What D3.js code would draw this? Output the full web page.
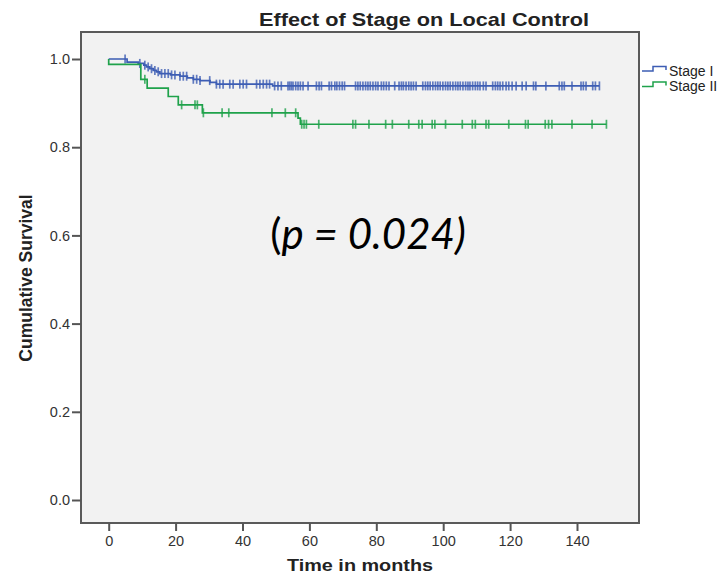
<!DOCTYPE html>
<html>
  <script src="https://cdn.jsdelivr.net/npm/d3@7" charset="utf-8"></script>
  <style>
    body{ margin: 0; background: #fff; }
    text{ font-family: "Liberation Sans", Arial, sans-serif; fill: #222; }
    .axis path{ display: none; }
    .axis line{ stroke: #555; stroke-width: 2; }
    .axis text{ font-size: 14.5px; fill: #333; }
  </style>
  <body>
    <script>

// Kaplan-Meier: event times (months) and survival after each event
var stage1Times = [5.5, 8.8, 10.5, 11.3, 12.3, 13.3, 14.3, 15.3, 18.5, 21.3, 23.5, 25.3, 27.3, 30.3, 32.2, 49]
var stage1Surv  = [0.993, 0.990, 0.986, 0.982, 0.978, 0.974, 0.971, 0.967, 0.964, 0.961, 0.957, 0.954, 0.951, 0.947, 0.943, 0.939]
var stage1Censor = [4.9, 9.3, 10.8, 11.8, 12.8, 13.8, 14.8, 15.8, 16.8, 17.8, 18.8, 19.8, 21.3, 22.3, 23.3,
  25.3, 26.3, 27.3, 30.2, 32.2, 33.2, 34.2, 36.2, 37.2, 39.2, 40.2, 41.2, 44.2, 45.2, 46.2, 47.2, 48.1,
  49.6, 50.6, 51.6, 53.6, 54.1, 54.6, 55.1, 55.9, 56.6, 57.3, 58.1, 59.6, 62.1, 62.9, 63.6, 65.9, 66.6,
  67.6, 68.2, 69.0, 69.8, 70.5, 73.8, 74.5, 75.2, 76.0, 76.8, 77.5, 78.2, 79.0, 79.8, 80.5, 81.5, 82.2,
  83.0, 83.8, 85.5, 86.8, 87.5, 88.1, 88.9, 89.7, 90.4, 91.1, 91.9, 93.9, 94.7, 95.4, 96.1, 96.9, 97.7,
  98.4, 99.1, 99.9, 100.7, 101.4, 102.1, 102.9, 103.7, 104.4, 105.1, 105.9, 106.7, 107.4, 108.0, 108.8,
  109.6, 110.3, 111.0, 112.0, 112.8, 114.8, 115.6, 116.3, 117.0, 117.8, 118.8, 119.6, 120.6, 121.8,
  123.6, 124.8, 127.0, 127.7, 130.7, 134.7, 135.5, 136.2, 138.5, 141.2, 141.9, 142.7, 144.7, 145.5, 146.7]

var stage2Times = [0, 9.6, 11.5, 17.8, 20.8, 28, 56.6, 57.3]
var stage2Surv  = [0.988, 0.954, 0.934, 0.915, 0.896, 0.878, 0.866, 0.852]
var stage2Censor = [10.8, 21.8, 25.8, 26.5, 28.3, 33.9, 35.9, 48.8, 52.8, 55.9, 57.7, 58.4, 59.1, 62.8,
  73, 73.8, 77.8, 82.8, 84.8, 89.7, 92.7, 93.7, 96.7, 97.5, 100.7, 105.7, 108.7, 109.6, 112.8, 113.6,
  119.6, 124.6, 125.4, 130.5, 131.5, 132.5, 138.5, 144.5, 148.8]

var seriesNames = ['Stage I', 'Stage II']
var seriesColors = ['#3d5db4', '#1fa24b']
var xTicks = [0, 20, 40, 60, 80, 100, 120, 140]
var yTicks = [0, 0.2, 0.4, 0.6, 0.8, 1.0]

var W = 721, H = 576
  , frame = {left: 81, right: 639, top: 32, bottom: 523}

var svg = d3.select('body').append('svg').attr('width', W).attr('height', H)

var x = d3.scaleLinear().domain([0, 140]).range([108.7, 577])
  , y = d3.scaleLinear().domain([0, 1]).range([500, 59])

svg.append('rect')
  .attr('x', frame.left).attr('y', frame.top)
  .attr('width', frame.right - frame.left).attr('height', frame.bottom - frame.top)
  .attr('fill', '#f2f2f2').attr('stroke', '#5a5a5a').attr('stroke-width', 2)

svg.append('g').attr('class', 'axis')
  .attr('transform', 'translate(0,' + frame.bottom + ')')
  .call(d3.axisBottom(x).tickValues(xTicks).tickSize(8).tickPadding(5))

svg.append('g').attr('class', 'axis')
  .attr('transform', 'translate(' + frame.left + ',0)')
  .call(d3.axisLeft(y).tickValues(yTicks).tickSize(9).tickPadding(2).tickFormat(d3.format('.1f')))

function survAt(times, surv, t){
  var s = 1
  times.forEach(function(tt, i){ if(tt <= t) s = surv[i] })
  return s
}

var line = d3.line().x(function(d){ return x(d[0]) }).y(function(d){ return y(d[1]) })
  .curve(d3.curveStepAfter)

var groups = [
  {times: stage1Times, surv: stage1Surv, censor: stage1Censor},
  {times: stage2Times, surv: stage2Surv, censor: stage2Censor}
]

groups.forEach(function(g, i){
  var end = d3.max(g.censor)
    , pts = [[0, 1]].concat(g.times.map(function(t, j){ return [t, g.surv[j]] }))
  pts.push([end, g.surv[g.surv.length - 1]])

  svg.append('path').attr('d', line(pts))
    .attr('fill', 'none').attr('stroke', seriesColors[i]).attr('stroke-width', 1.7)

  svg.append('g').selectAll('line').data(g.censor).enter().append('line')
    .attr('x1', function(d){ return x(d) }).attr('x2', function(d){ return x(d) })
    .attr('y1', function(d){ return y(survAt(g.times, g.surv, d)) - 4.5 })
    .attr('y2', function(d){ return y(survAt(g.times, g.surv, d)) + 4.5 })
    .attr('stroke', seriesColors[i]).attr('stroke-width', 1.7).attr('opacity', 0.8)
})

// legend
var leg = svg.append('g').selectAll('g').data(seriesNames).enter().append('g')
  .attr('transform', function(d, i){ return 'translate(0,' + (i * 15.5) + ')' })
leg.append('path')
  .attr('d', 'M642,71H653V66.5H666V70')
  .attr('fill', 'none').attr('stroke', function(d, i){ return seriesColors[i] }).attr('stroke-width', 1.5)
leg.append('text').attr('x', 669).attr('y', 75.5)
  .style('font-size', '14px').text(function(d){ return d })

svg.append('text').attr('x', 424).attr('y', 26).attr('text-anchor', 'middle')
  .attr('textLength', 330).attr('lengthAdjust', 'spacingAndGlyphs')
  .style('font-size', '18.5px').style('font-weight', 'bold')
  .text('Effect of Stage on Local Control')

svg.append('text').attr('x', 360).attr('y', 571).attr('text-anchor', 'middle')
  .attr('textLength', 146).attr('lengthAdjust', 'spacingAndGlyphs')
  .style('font-size', '17px').style('font-weight', 'bold')
  .text('Time in months')

svg.append('text').attr('transform', 'translate(32,278) rotate(-90)').attr('text-anchor', 'middle')
  .style('font-size', '17.5px').style('font-weight', 'bold')
  .text('Cumulative Survival')

var p = svg.append('text').attr('x', 368).attr('y', 249).attr('text-anchor', 'middle')
  .style('font-family', 'Lato, "Open Sans", sans-serif').style('font-size', '42px').style('fill', '#000')
p.append('tspan').text('(')
p.append('tspan').style('font-style', 'italic').text('p = 0.024)')

    </script>
  </body>
</html>
